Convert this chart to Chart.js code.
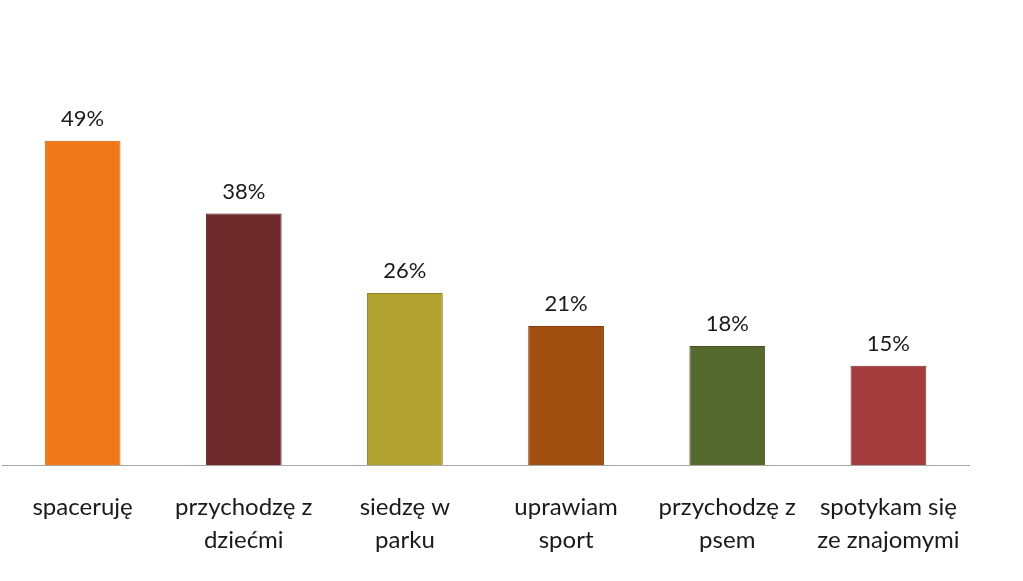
<!DOCTYPE html>
<html>
<head>
<meta charset="utf-8">
<script src="https://cdn.jsdelivr.net/npm/chart.js@4"></script>
<style>
  html, body { margin: 0; padding: 0; background: #fff; }
  #wrap { width: 1023px; height: 581px; }
</style>
</head>
<body>
<div id="wrap"><canvas id="myChart" width="1023" height="581"></canvas></div>
<script>
// dane
const kategorie = [
    'spaceruję',
    ['przychodzę z', 'dziećmi'],
    ['siedzę w', 'parku'],
    ['uprawiam', 'sport'],
    ['przychodzę z', 'psem'],
    ['spotykam się', 'ze znajomymi']
];
const wartosci = [49, 38, 26, 21, 18, 15];
const kolory = ['#F07818', '#6E2A2B', '#B2A22F', '#A04F10', '#566A2F', '#A23C3D'];
const obramowanie = ['#C45F0E', '#561F20', '#8F8224', '#7E3D0B', '#43531F', '#832F30'];

// etykiety nad słupkami
const etykietyPlugin = {
    id: 'etykiety',
    afterDatasetsDraw(chart) {
        const ctx = chart.ctx;
        const meta = chart.getDatasetMeta(0);
        ctx.save();
        ctx.font = '22px Lato';
        ctx.fillStyle = '#1a1a1a';
        ctx.textAlign = 'center';
        ctx.textBaseline = 'middle';
        meta.data.forEach(function (bar, i) {
            ctx.fillText(wartosci[i] + '%', bar.x, bar.y - 22);
        });
        ctx.restore();
    }
};

new Chart(
    document.getElementById('myChart'),
    {
        type: 'bar',
        data: {
            labels: kategorie,
            datasets: [
                {
                    data: wartosci,
                    backgroundColor: kolory,
                    borderColor: obramowanie,
                    borderWidth: 1,
                    barPercentage: 0.47,
                    categoryPercentage: 1
                }
            ]
        },
        options: {
            responsive: false,
            animation: false,
            layout: { padding: { top: 68, right: 54, left: 2, bottom: 0 } },
            plugins: {
                legend: { display: false },
                tooltip: { enabled: false }
            },
            scales: {
                y: { display: false, min: 0, max: 60 },
                x: {
                    grid: { display: false },
                    border: { display: true, color: '#A6A6A6', width: 1 },
                    ticks: {
                        color: '#1a1a1a',
                        font: { family: 'Lato', size: 24, lineHeight: 1.375 },
                        padding: 18,
                        maxRotation: 0,
                        autoSkip: false
                    },
                    afterFit(scale) {
                        scale.height = 116;
                    }
                }
            }
        },
        plugins: [etykietyPlugin]
    }
);
</script>
</body>
</html>
